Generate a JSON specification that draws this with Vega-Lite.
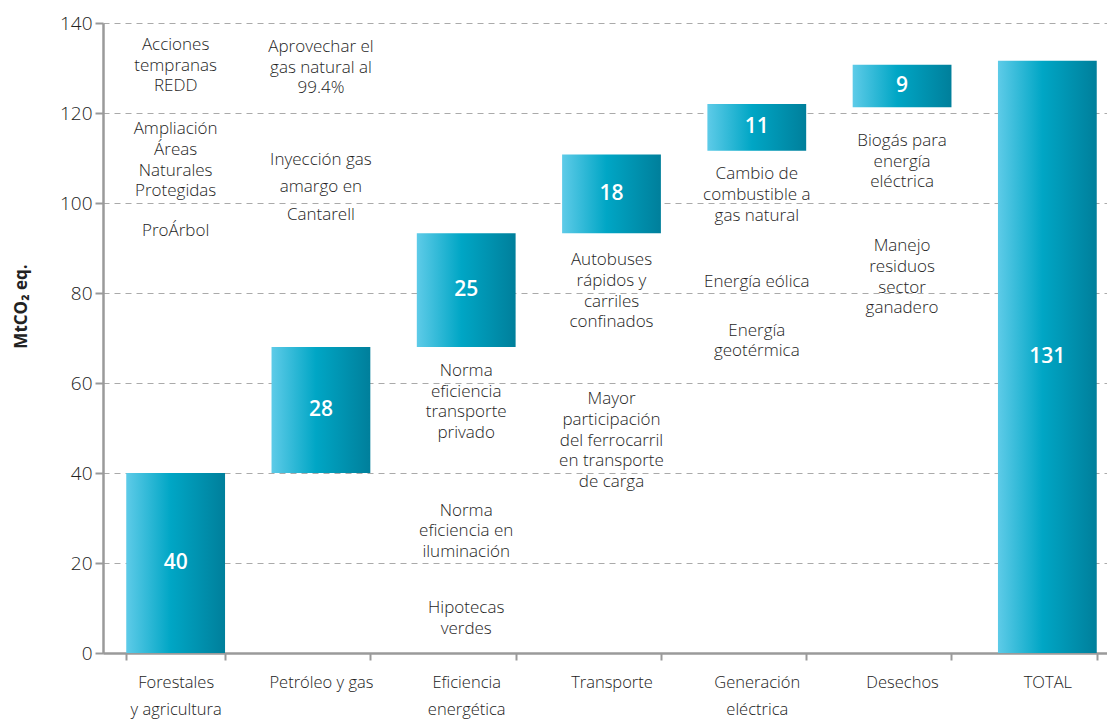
{
  "$schema": "https://vega.github.io/schema/vega-lite/v6.json",
  "autosize": {"type": "none"},
  "width": 1004,
  "height": 630,
  "padding": {"left": 103, "top": 23, "right": 0, "bottom": 67},
  "background": "white",
  "config": {
    "view": {"stroke": null},
    "font": "Open Sans",
    "text": {"font": "Open Sans"}
  },
  "datasets": {
    "bars": [
      {"cat": "Forestales y agricultura", "start": 0, "end": 40, "label": "40"},
      {"cat": "Petróleo y gas", "start": 40, "end": 68, "label": "28"},
      {"cat": "Eficiencia energética", "start": 68, "end": 93.3, "label": "25"},
      {"cat": "Transporte", "start": 93.3, "end": 110.8, "label": "18"},
      {"cat": "Generación eléctrica", "start": 111.6, "end": 122, "label": "11"},
      {"cat": "Desechos", "start": 121.3, "end": 130.7, "label": "9"},
      {"cat": "TOTAL", "start": 0, "end": 131.6, "label": "131"}
    ],
    "notes": [
      {"cat": "Forestales y agricultura", "v": 135.1, "note": "Acciones\ntempranas\nREDD"},
      {"cat": "Forestales y agricultura", "v": 116.4, "note": "Ampliación\nÁreas\nNaturales\nProtegidas"},
      {"cat": "Forestales y agricultura", "v": 93.8, "note": "ProÁrbol"},
      {"cat": "Petróleo y gas", "v": 134.7, "note": "Aprovechar el\ngas natural al\n99.4%"},
      {"cat": "Eficiencia energética", "v": 62.7, "note": "Norma\neficiencia\ntransporte\nprivado"},
      {"cat": "Eficiencia energética", "v": 31.6, "note": "Norma\neficiencia en\niluminación"},
      {"cat": "Eficiencia energética", "v": 10, "note": "Hipotecas\nverdes"},
      {"cat": "Transporte", "v": 87.3, "note": "Autobuses\nrápidos y\ncarriles\nconfinados"},
      {"cat": "Transporte", "v": 56.4, "note": "Mayor\nparticipación\ndel ferrocarril\nen transporte\nde carga"},
      {"cat": "Generación eléctrica", "v": 106.4, "note": "Cambio de\ncombustible a\ngas natural"},
      {"cat": "Generación eléctrica", "v": 82.4, "note": "Energía eólica"},
      {"cat": "Generación eléctrica", "v": 71.6, "note": "Energía\ngeotérmica"},
      {"cat": "Desechos", "v": 113.8, "note": "Biogás para\nenergía\neléctrica"},
      {"cat": "Desechos", "v": 90.4, "note": "Manejo\nresiduos\nsector\nganadero"}
    ],
    "notes2": [
      {"cat": "Petróleo y gas", "v": 109.6, "note": "Inyección gas\namargo en\nCantarell"}
    ]
  },
  "encoding": {
    "x": {
      "field": "cat",
      "type": "nominal",
      "scale": {
        "domain": ["Forestales y agricultura", "Petróleo y gas", "Eficiencia energética", "Transporte", "Generación eléctrica", "Desechos", "TOTAL"],
        "range": [0, 1017],
        "paddingInner": 0.32,
        "paddingOuter": 0.16
      },
      "axis": {
        "title": null,
        "labelAngle": 0,
        "labelFont": "Open Sans",
        "labelFontSize": 16.5,
        "labelFontWeight": 300,
        "labelColor": "#222222",
        "labelPadding": 14,
        "labelLineHeight": 27,
        "labelBaseline": "top",
        "labelExpr": "datum.label == 'Forestales y agricultura' ? ['Forestales', 'y agricultura'] : datum.label == 'Eficiencia energética' ? ['Eficiencia', 'energética'] : datum.label == 'Generación eléctrica' ? ['Generación', 'eléctrica'] : datum.label",
        "tickBand": "extent",
        "tickColor": "#9a9a9a",
        "tickSize": 7,
        "tickWidth": 2,
        "domainColor": "#9a9a9a",
        "domainWidth": 2.5
      }
    }
  },
  "layer": [
    {
      "data": {"name": "bars"},
      "mark": {
        "type": "bar",
        "color": {
          "gradient": "linear",
          "x1": 0, "x2": 1, "y1": 0, "y2": 0,
          "stops": [
            {"offset": 0, "color": "#5ecbe8"},
            {"offset": 0.45, "color": "#00a6c5"},
            {"offset": 1, "color": "#007f9b"}
          ]
        }
      },
      "encoding": {
        "y": {
          "field": "start",
          "type": "quantitative",
          "scale": {"domain": [0, 140], "nice": false},
          "axis": {
            "values": [0, 20, 40, 60, 80, 100, 120, 140],
            "title": "MtCO₂ eq.",
            "titleFont": "Open Sans",
            "titleFontWeight": "bold",
            "titleFontSize": 17,
            "titleColor": "#222222",
            "titleAngle": -90,
            "titleX": -82,
            "titleY": 283,
            "titleAlign": "center",
            "titleBaseline": "middle",
            "labelFont": "Open Sans",
            "labelFontSize": 19,
            "labelFontWeight": 300,
            "labelColor": "#222222",
            "labelPadding": 3,
            "tickColor": "#9a9a9a",
            "tickSize": 8,
            "tickWidth": 2,
            "domainColor": "#9a9a9a",
            "domainWidth": 2.5,
            "grid": true,
            "gridColor": "#aaaaaa",
            "gridDash": [6, 5],
            "gridWidth": 1
          }
        },
        "y2": {"field": "end"}
      }
    },
    {
      "data": {"name": "bars"},
      "transform": [{"calculate": "(datum.start + datum.end) / 2", "as": "mid"}],
      "mark": {"type": "text", "color": "white", "fontSize": 21, "fontWeight": 600, "baseline": "middle", "align": "center"},
      "encoding": {
        "y": {"field": "mid", "type": "quantitative"},
        "text": {"field": "label"}
      }
    },
    {
      "data": {"name": "notes"},
      "mark": {"type": "text", "color": "#1e1e1e", "fontSize": 17, "fontWeight": 300, "lineBreak": "\n", "lineHeight": 20.7, "baseline": "middle", "align": "center"},
      "encoding": {
        "y": {"field": "v", "type": "quantitative"},
        "text": {"field": "note"}
      }
    },
    {
      "data": {"name": "notes2"},
      "mark": {"type": "text", "color": "#1e1e1e", "fontSize": 17, "fontWeight": 300, "lineBreak": "\n", "lineHeight": 27.5, "baseline": "middle", "align": "center"},
      "encoding": {
        "y": {"field": "v", "type": "quantitative"},
        "text": {"field": "note"}
      }
    }
  ]
}
